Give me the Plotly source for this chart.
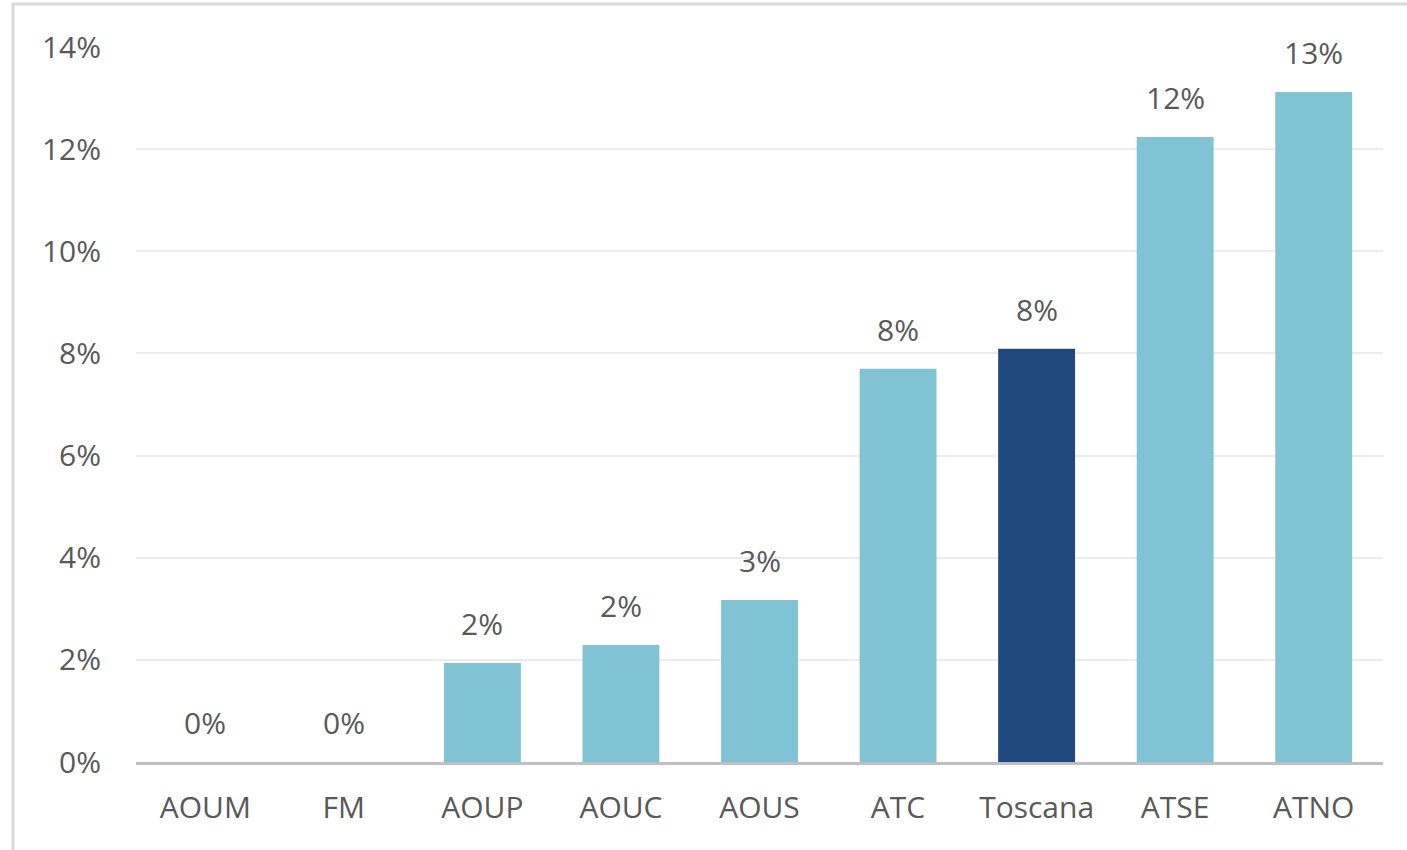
import plotly.graph_objects as go

categories = ["AOUM", "FM", "AOUP", "AOUC", "AOUS", "ATC", "Toscana", "ATSE", "ATNO"]
values = [0.0, 0.0, 1.94, 2.29, 3.17, 7.70, 8.09, 12.24, 13.12]
labels = ["0%", "0%", "2%", "2%", "3%", "8%", "8%", "12%", "13%"]
highlight = "Toscana"

light = "#7fc3d5"
dark = "#1f497d"
colors = [dark if c == highlight else light for c in categories]

tick_vals = [0, 2, 4, 6, 8, 10, 12, 14]
tick_text = ["0%", "2%", "4%", "6%", "8%", "10%", "12%", "14%"]

W, H = 1407, 850
ml, mr, mt, mb = 136, 24, 47, 88

fig = go.Figure()
fig.add_trace(go.Bar(
    x=categories, y=values, marker=dict(color=colors, line=dict(width=0)),
    hoverinfo="skip", showlegend=False,
))

font = dict(family="Open Sans, Segoe UI, sans-serif", size=30, color="#595959")

for c, v, t in zip(categories, values, labels):
    fig.add_annotation(x=c, y=v, text=t, showarrow=False, yanchor="bottom",
                       yshift=17, font=font)

pw = W - ml - mr
ph = H - mt - mb
x0 = (13 - ml) / pw
x1 = (W + 5 - ml) / pw
y1 = (H - mb - 4) / ph
y0 = (H - mb - H - 10) / ph
fig.add_shape(type="rect", xref="paper", yref="paper", x0=x0, x1=x1, y0=y0, y1=y1,
              line=dict(color="#d9d9d9", width=3), layer="below")

fig.update_layout(
    width=W, height=H,
    margin=dict(l=ml, r=mr, t=mt, b=mb),
    paper_bgcolor="white", plot_bgcolor="white",
    bargap=0.445,
    font=font,
    xaxis=dict(showgrid=False, showline=True, linecolor="#bfbfbf", linewidth=3,
               ticks="", tickfont=font, ticklabelstandoff=17, zeroline=False),
    yaxis=dict(range=[0, 14], tickvals=tick_vals, ticktext=tick_text,
               showgrid=True, gridcolor="#ececec", gridwidth=2,
               zeroline=False, showline=False, ticks="", tickfont=font,
               ticklabelstandoff=34),
)

fig.write_html("out.html", config={"displayModeBar": False},
               post_script="document.body.style.margin='0';document.body.style.overflow='hidden';")
